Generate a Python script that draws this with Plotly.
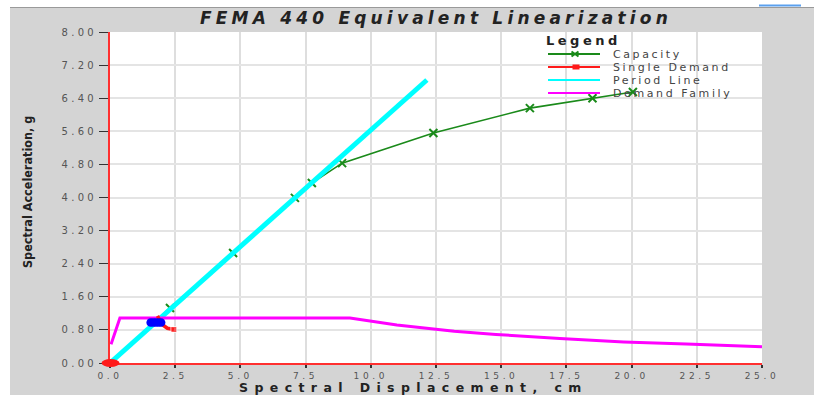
import plotly.graph_objects as go

# ---- canvas / plot-area geometry (pixels) ----
W, H = 814, 395
ML, MR, MT, MB = 110, 52, 32, 32
PW, PH = W - ML - MR, H - MT - MB
X_RANGE = [0.0, 25.0]
Y_RANGE = [0.0, 8.0]


def px_x(px):
    return (px - ML) / PW


def px_y(py):
    return (H - MB - py) / PH


def spaced(text, ls):
    return f'<span style="letter-spacing:{ls}px">{text}</span>'


# ---- data ----
capacity_sd = [0.0, 2.30, 4.72, 7.09, 7.74, 8.90, 12.40, 16.10, 18.50, 20.05]
capacity_sa = [0.0, 1.33, 2.66, 3.99, 4.35, 4.83, 5.56, 6.16, 6.40, 6.55]

period_sd = [0.0, 12.15]
period_sa = [0.0, 6.84]

family_sd = [0.04, 0.38, 9.20, 11.00, 13.20, 14.80, 17.25, 19.70, 22.10, 25.00]
family_sa = [0.45, 1.09, 1.09, 0.92, 0.77, 0.69, 0.59, 0.51, 0.46, 0.39]

single_sd = [1.82, 2.00, 2.20, 2.45]
single_sa = [1.14, 0.93, 0.84, 0.81]

perf_sd, perf_sa = 1.76, 0.98
origin_sd, origin_sa = 0.02, 0.0

x_ticks = [0.0, 2.5, 5.0, 7.5, 10.0, 12.5, 15.0, 17.5, 20.0, 22.5, 25.0]
x_labels = ["0.0", "2.5", "5.0", "7.5", "10.0", "12.5", "15.0", "17.5", "20.0", "22.5", "25.0"]
y_ticks = [0.0, 0.8, 1.6, 2.4, 3.2, 4.0, 4.8, 5.6, 6.4, 7.2, 8.0]
y_labels = ["0.00", "0.80", "1.60", "2.40", "3.20", "4.00", "4.80", "5.60", "6.40", "7.20", "8.00"]

legend_names = ["Capacity", "Single Demand", "Period Line", "Demand Family"]
legend_colors = ["#1a8a1a", "#ff1a1a", "#00ffff", "#ff00ff"]

GREEN, RED, CYAN, MAGENTA, BLUE = legend_colors + ["#0000ff"]


def capsule(x, y, half_px, dot):
    """Horizontal pill made of overlapping dots, half_px wide on each side."""
    d = (half_px - dot / 2) * (X_RANGE[1] - X_RANGE[0]) / PW
    return [x - d, x - d / 2, x, x + d / 2, x + d], [y] * 5


fig = go.Figure()

# capacity first so the thick period line sits over its elastic branch
fig.add_trace(go.Scatter(x=capacity_sd, y=capacity_sa, mode="lines+markers",
                         line=dict(color=GREEN, width=1.6),
                         marker=dict(symbol="x-thin", size=8, color=GREEN,
                                     line=dict(color=GREEN, width=2)),
                         showlegend=False))
fig.add_trace(go.Scatter(x=period_sd, y=period_sa, mode="lines",
                         line=dict(color=CYAN, width=5), showlegend=False))
fig.add_trace(go.Scatter(x=family_sd, y=family_sa, mode="lines",
                         line=dict(color=MAGENTA, width=3), showlegend=False))
fig.add_trace(go.Scatter(x=single_sd, y=single_sa, mode="lines+markers",
                         line=dict(color=RED, width=3.5),
                         marker=dict(symbol="square", size=[0, 0, 0, 6], color=RED),
                         showlegend=False))
bx, by = capsule(perf_sd, perf_sa, 9.5, 8.5)
fig.add_trace(go.Scatter(x=bx, y=by, mode="markers",
                         marker=dict(symbol="circle", size=8.5, color=BLUE),
                         showlegend=False))

shapes = []
annotations = []

# origin marker: flat red ellipse anchored on its data point, allowed to spill past the axes
shapes.append(dict(type="circle", xref="x domain", yref="y domain",
                   xsizemode="pixel", ysizemode="pixel",
                   xanchor=(origin_sd - X_RANGE[0]) / (X_RANGE[1] - X_RANGE[0]),
                   yanchor=(origin_sa - Y_RANGE[0]) / (Y_RANGE[1] - Y_RANGE[0]),
                   x0=-9, x1=9, y0=-4, y1=4,
                   fillcolor=RED, line=dict(width=0), layer="above"))

# ---- hand-drawn legend block ----
leg_y = [54, 67, 80, 93]
for name, color, yy in zip(legend_names, legend_colors, leg_y):
    shapes.append(dict(type="line", xref="paper", yref="paper",
                       x0=px_x(548), x1=px_x(600), y0=px_y(yy), y1=px_y(yy),
                       line=dict(color=color, width=2.2)))
    annotations.append(dict(text=spaced(name, 2.6), xref="paper", yref="paper",
                            x=px_x(611), y=px_y(yy), xanchor="left", yanchor="middle",
                            showarrow=False,
                            font=dict(family="DejaVu Sans", size=11, color="#444444")))
# capacity glyph (x) and single-demand glyph (square)
cx, cy = 575, leg_y[0]
shapes.append(dict(type="path", xref="paper", yref="paper",
                   path=(f"M{px_x(cx-3.5)},{px_y(cy-2.5)} L{px_x(cx+3.5)},{px_y(cy+2.5)} "
                         f"M{px_x(cx-3.5)},{px_y(cy+2.5)} L{px_x(cx+3.5)},{px_y(cy-2.5)}"),
                   line=dict(color=GREEN, width=2)))
sx, sy = 576, leg_y[1]
shapes.append(dict(type="rect", xref="paper", yref="paper",
                   x0=px_x(sx-3.5), x1=px_x(sx+3.5), y0=px_y(sy+2.5), y1=px_y(sy-2.5),
                   fillcolor=RED, line=dict(width=0)))
annotations.append(dict(text=spaced("<b>Legend</b>", 3.5), xref="paper", yref="paper",
                        x=px_x(544), y=px_y(40), xanchor="left", yanchor="middle",
                        showarrow=False,
                        font=dict(family="DejaVu Sans", size=13, color="#222222")))

# axis titles
annotations.append(dict(text=spaced("<b>Spectral Displacement, cm</b>", 6.4),
                        xref="paper", yref="paper", x=px_x(413), y=px_y(387.5),
                        xanchor="center", yanchor="middle", showarrow=False, borderpad=0,
                        font=dict(family="DejaVu Sans", size=12.5, color="#222222")))
annotations.append(dict(text="<b>Spectral Acceleration, g</b>", textangle=-90,
                        xref="paper", yref="paper", x=px_x(27), y=px_y(192),
                        xanchor="center", yanchor="middle", showarrow=False,
                        font=dict(family="DejaVu Sans Condensed, Liberation Sans Narrow, sans-serif",
                                  size=12.5, color="#222222")))

# window chrome: white strips, divider and the small blue bar
shapes += [
    dict(type="rect", xref="paper", yref="paper", x0=px_x(0), x1=px_x(10),
         y0=px_y(H), y1=px_y(0), fillcolor="white", line=dict(width=0)),
    dict(type="rect", xref="paper", yref="paper", x0=px_x(0), x1=px_x(W),
         y0=px_y(7), y1=px_y(0), fillcolor="white", line=dict(width=0)),
    dict(type="line", xref="paper", yref="paper", x0=px_x(10), x1=px_x(W),
         y0=px_y(7.5), y1=px_y(7.5), line=dict(color="#9a9a9a", width=1.2)),
    dict(type="line", xref="paper", yref="paper", x0=px_x(759), x1=px_x(801),
         y0=px_y(5.5), y1=px_y(5.5), line=dict(color="#5aa0ee", width=2)),
]

fig.update_layout(
    width=W, height=H,
    margin=dict(l=ML, r=MR, t=MT, b=MB, pad=0),
    paper_bgcolor="#d4d4d4", plot_bgcolor="white",
    showlegend=False,
    title=dict(text=spaced("FEMA 440 Equivalent Linearization", 4.2),
               x=0.5, xref="paper", y=1 - 18 / H, yref="container",
               xanchor="center", yanchor="middle",
               font=dict(family="DejaVu Sans", size=17, color="#222222",
                         weight="bold", style="italic")),
    xaxis=dict(range=X_RANGE, tickvals=x_ticks,
               ticktext=[spaced(t, 3.6) for t in x_labels],
               showgrid=True, gridcolor="#dedede", gridwidth=2, zeroline=False,
               showline=True, linecolor="#ff3030", linewidth=1.5,
               ticks="outside", ticklen=3, tickcolor="#333333", tickwidth=1.5,
               tickfont=dict(family="DejaVu Sans", size=9, color="#555555")),
    yaxis=dict(range=Y_RANGE, tickvals=y_ticks,
               ticktext=[spaced(t, 3.3) for t in y_labels],
               showgrid=True, gridcolor="#e4e4e4", gridwidth=2, zeroline=False,
               showline=True, linecolor="#ff3030", linewidth=2,
               ticks="outside", ticklen=9, tickcolor="#333333", tickwidth=1.2,
               tickfont=dict(family="DejaVu Sans", size=10, color="#555555")),
    shapes=shapes,
    annotations=annotations,
)

fig.write_html("out.html")
